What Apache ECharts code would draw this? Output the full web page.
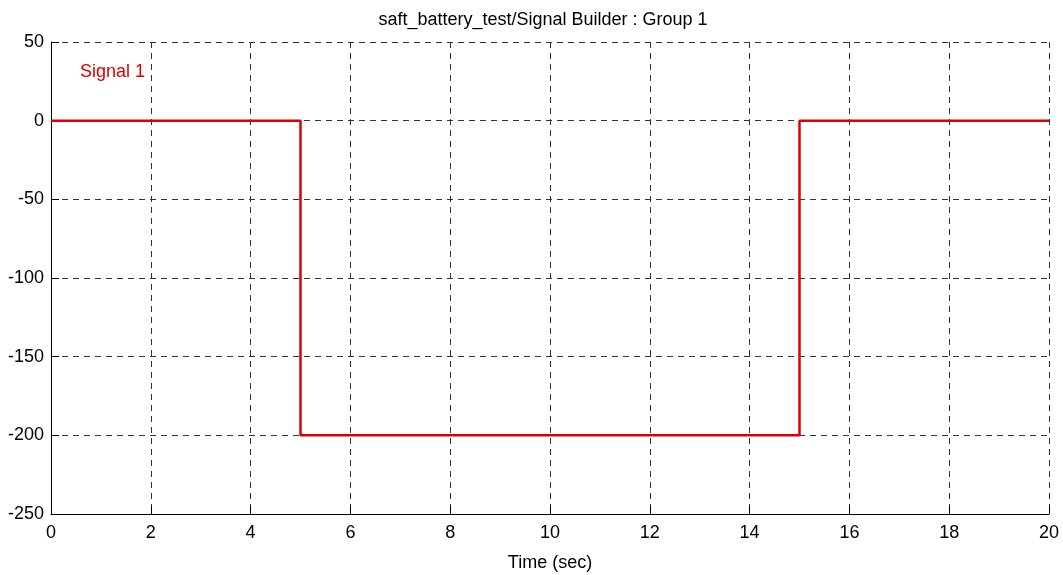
<!DOCTYPE html>
<html>
<head>
<meta charset="utf-8">
<script src="https://cdn.jsdelivr.net/npm/echarts@6/dist/echarts.min.js"></script>
<style>
  html, body { margin: 0; padding: 0; background: #fff; }
  #chart { width: 1063px; height: 575px; }
</style>
</head>
<body>
<div id="chart"></div>
<script>
// step signal: time (sec) and value
const timeData = [0, 5, 5, 15, 15, 20];
const signalData = [0, 0, -200, -200, 0, 0];
const xTicks = [0, 2, 4, 6, 8, 10, 12, 14, 16, 18, 20];
const yTicks = [-250, -200, -150, -100, -50, 0, 50];

const chart = echarts.init(document.getElementById('chart'));

const gridLine = {
    show: true,
    lineStyle: { color: '#333', type: [6, 5], width: 1 }
};
const font = 'Liberation Sans';

chart.setOption({
    animation: false,
    title: {
        text: 'saft_battery_test/Signal Builder : Group 1',
        left: 538,
        top: 6,
        textAlign: 'center',
        textStyle: { fontFamily: font, fontSize: 18, fontWeight: 'normal', color: '#000' }
    },
    legend: {
        data: ['Signal 1'],
        left: 70,
        top: 58,
        icon: 'none',
        itemWidth: 0,
        itemGap: 0,
        textStyle: { fontFamily: font, fontSize: 18, color: '#dd0000' }
    },
    grid: { left: 51, right: 14, top: 42, bottom: 61, outerBoundsMode: 'none' },
    xAxis: {
        type: 'value',
        min: 0,
        max: 20,
        interval: 2,
        name: 'Time (sec)',
        nameLocation: 'middle',
        nameGap: 40,
        nameTextStyle: { fontFamily: font, fontSize: 18, color: '#000' },
        axisLine: { show: true, onZero: false, lineStyle: { color: '#000', width: 1 } },
        axisTick: { show: true, inside: true, length: 8, lineStyle: { color: '#000' } },
        axisLabel: {
            fontFamily: font, fontSize: 18, color: '#000', margin: 10,
            formatter: v => xTicks.includes(v) ? String(v) : ''
        },
        splitLine: gridLine
    },
    yAxis: {
        type: 'value',
        min: -250,
        max: 50,
        interval: 50,
        axisLine: { show: true, lineStyle: { color: '#000', width: 1 } },
        axisTick: { show: true, inside: true, length: 8, lineStyle: { color: '#000' } },
        axisLabel: {
            fontFamily: font, fontSize: 18, color: '#000', margin: 7,
            formatter: v => yTicks.includes(v) ? String(v) : ''
        },
        splitLine: gridLine
    },
    series: [{
        name: 'Signal 1',
        type: 'line',
        data: timeData.map((t, i) => [t, signalData[i]]),
        symbol: 'none',
        lineStyle: { color: '#dd0000', width: 2.5 },
        itemStyle: { color: '#dd0000' },
        z: 5
    }]
});
</script>
</body>
</html>
